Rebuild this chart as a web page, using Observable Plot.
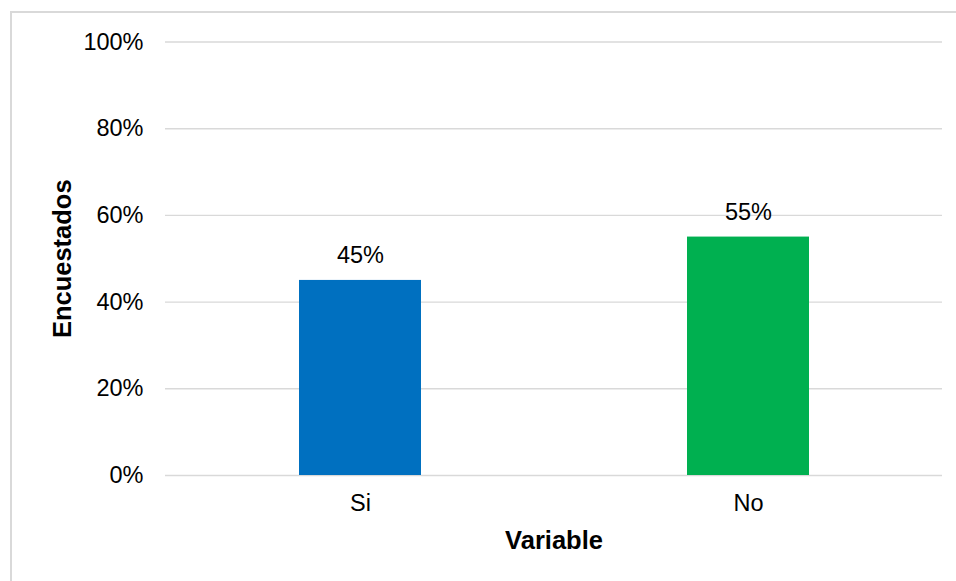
<!DOCTYPE html>
<html>
<head>
<meta charset="utf-8">
<script src="https://cdn.jsdelivr.net/npm/d3@7"></script>
<script src="https://cdn.jsdelivr.net/npm/@observablehq/plot@0.6"></script>
<style>
  html, body { margin: 0; padding: 0; background: #fff; overflow: hidden; }
  #wrap { position: relative; width: 956px; height: 581px; }
  #border { position: absolute; left: 10px; top: 11px; width: 960px; height: 600px;
            border: 2px solid #d9d9d9; box-sizing: border-box; pointer-events: none; }
  #chart { position: absolute; left: 0; top: 0; }
</style>
</head>
<body>
<div id="wrap">
  <div id="chart"></div>
  <div id="border"></div>
</div>
<script>
const categories = ["Si", "No"];
const values = [0.45, 0.55];
const colors = ["#0070C0", "#00B050"];
const yTicks = [0, 0.2, 0.4, 0.6, 0.8, 1.0];
const xTitle = "Variable";
const yTitle = "Encuestados";

const data = categories.map((c, i) => ({ cat: c, value: values[i], color: colors[i] }));
const pct = d3.format(".0%");

const chart = Plot.plot({
  width: 956,
  height: 581,
  marginLeft: 165,
  marginRight: 14,
  marginTop: 41.5,
  marginBottom: 106,
  style: { fontFamily: "'Liberation Sans', Arial, sans-serif", background: "transparent", color: "#000" },
  x: { domain: categories, paddingInner: 0.686, paddingOuter: 0.343 },
  y: { domain: [0, 1] },
  marks: [
    Plot.gridY(yTicks, { stroke: "#d9d9d9", strokeOpacity: 1, strokeWidth: 1.4 }),
    Plot.barY(data, { x: "cat", y: "value", fill: "color" }),
    Plot.text(data, { x: "cat", y: "value", text: d => pct(d.value), dy: -24.5, fontSize: 23.5, fill: "#000" }),
    Plot.axisY(yTicks, { tickSize: 0, tickPadding: 22, tickFormat: pct, fontSize: 23.5, label: null, fill: "#000" }),
    Plot.axisX({ tickSize: 0, tickPadding: 19, fontSize: 23.5, label: null, fill: "#000" }),
    Plot.text([xTitle], { frameAnchor: "bottom", textAnchor: "middle", lineAnchor: "middle", dy: 65, fontSize: 25.5, fontWeight: "bold", fill: "#000" }),
    Plot.text([yTitle], { frameAnchor: "left", textAnchor: "middle", lineAnchor: "middle", dx: -103, rotate: -90, fontSize: 25.5, fontWeight: "bold", fill: "#000" })
  ]
});
document.getElementById("chart").appendChild(chart);
</script>
</body>
</html>
